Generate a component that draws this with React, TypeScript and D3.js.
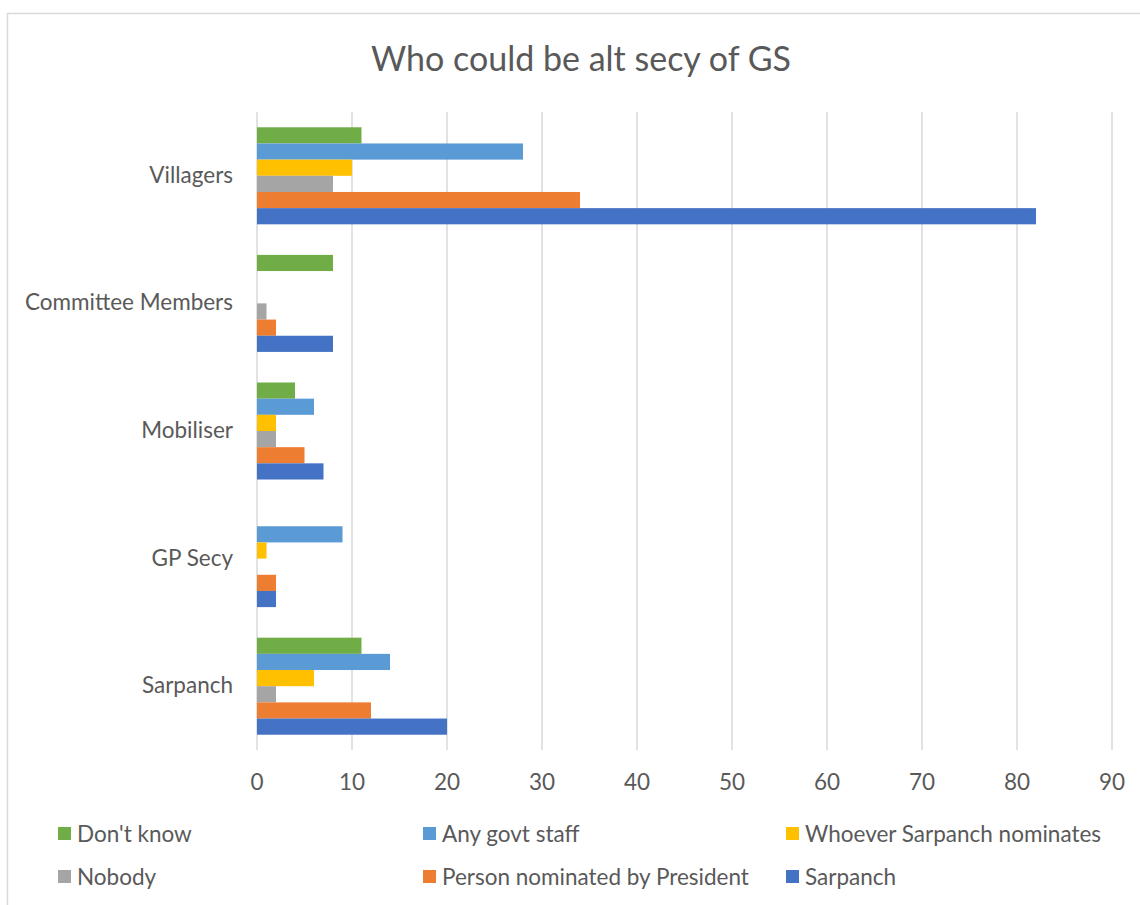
import React from "react";
import * as d3 from "d3";

const categories = ["Villagers", "Committee Members", "Mobiliser", "GP Secy", "Sarpanch"];
const seriesNames = [
  "Don't know",
  "Any govt staff",
  "Whoever Sarpanch nominates",
  "Nobody",
  "Person nominated by President",
  "Sarpanch",
];
const seriesColors = ["#70AD47", "#5B9BD5", "#FFC000", "#A5A5A5", "#ED7D31", "#4472C4"];
// values per series, in order of categories
const dontKnow = [11, 8, 4, 0, 11];
const anyGovtStaff = [28, 0, 6, 9, 14];
const whoeverSarpanch = [10, 0, 2, 1, 6];
const nobody = [8, 1, 2, 0, 2];
const personNominated = [34, 2, 5, 2, 12];
const sarpanch = [82, 8, 7, 2, 20];
const xTicks = [0, 10, 20, 30, 40, 50, 60, 70, 80, 90];
const legendOrder = [0, 1, 2, 3, 4, 5];

const seriesValues = [dontKnow, anyGovtStaff, whoeverSarpanch, nobody, personNominated, sarpanch];

const W = 1140;
const H = 905;
const FONT = "Lato, 'Open Sans', sans-serif";
const TEXT = "#595959";
const FS = 22.5;

export default function App() {
  const x = d3.scaleLinear().domain([0, 90]).range([257, 1112]);
  const y = d3.scaleBand<string>().domain(categories).range([112, 750]).padding(0);
  const inner = d3
    .scaleBand<string>()
    .domain(seriesNames)
    .range([0, y.bandwidth()])
    .paddingInner(0)
    .paddingOuter(0.945);

  const legendX = [58, 423, 786];
  const legendY = [834, 877];

  return (
    <div style={{ position: "absolute", left: 0, top: 0 }}>
      <svg width={W} height={H} style={{ display: "block" }}>
        <rect x={0} y={0} width={W} height={H} fill="#fff" />
        <rect x={7.5} y={13.5} width={W} height={H} fill="#fff" stroke="#D9D9D9" strokeWidth={1.5} />
        <text x={581} y={57} textAnchor="middle" dominantBaseline="central" fontFamily={FONT} fontSize={34} fill={TEXT}>
          Who could be alt secy of GS
        </text>
        {xTicks.map((t) => (
          <line key={"g" + t} x1={x(t)} x2={x(t)} y1={112} y2={750} stroke="#D9D9D9" strokeWidth={1.5} />
        ))}
        {categories.map((c, ci) => (
          <g key={c}>
            {seriesNames.map((s, si) => {
              const v = seriesValues[si][ci];
              if (!v) return null;
              return (
                <rect
                  key={s}
                  x={x(0)}
                  y={(y(c) as number) + (inner(s) as number)}
                  width={x(v) - x(0)}
                  height={inner.bandwidth()}
                  fill={seriesColors[si]}
                />
              );
            })}
            <text
              x={233}
              y={(y(c) as number) + y.bandwidth() / 2 - 1.5}
              textAnchor="end"
              dominantBaseline="central"
              fontFamily={FONT}
              fontSize={FS}
              fill={TEXT}
            >
              {c}
            </text>
          </g>
        ))}
        {xTicks.map((t) => (
          <text
            key={"t" + t}
            x={x(t)}
            y={781}
            textAnchor="middle"
            dominantBaseline="central"
            fontFamily={FONT}
            fontSize={FS}
            fill={TEXT}
          >
            {t}
          </text>
        ))}
        {legendOrder.map((si, i) => {
          const col = i % 3;
          const row = Math.floor(i / 3);
          return (
            <g key={"l" + si}>
              <rect x={legendX[col]} y={legendY[row] - 7} width={13} height={13} fill={seriesColors[si]} />
              <text
                x={legendX[col] + 19}
                y={legendY[row] - 1}
                dominantBaseline="central"
                fontFamily={FONT}
                fontSize={FS}
                fill={TEXT}
              >
                {seriesNames[si]}
              </text>
            </g>
          );
        })}
      </svg>
    </div>
  );
}
